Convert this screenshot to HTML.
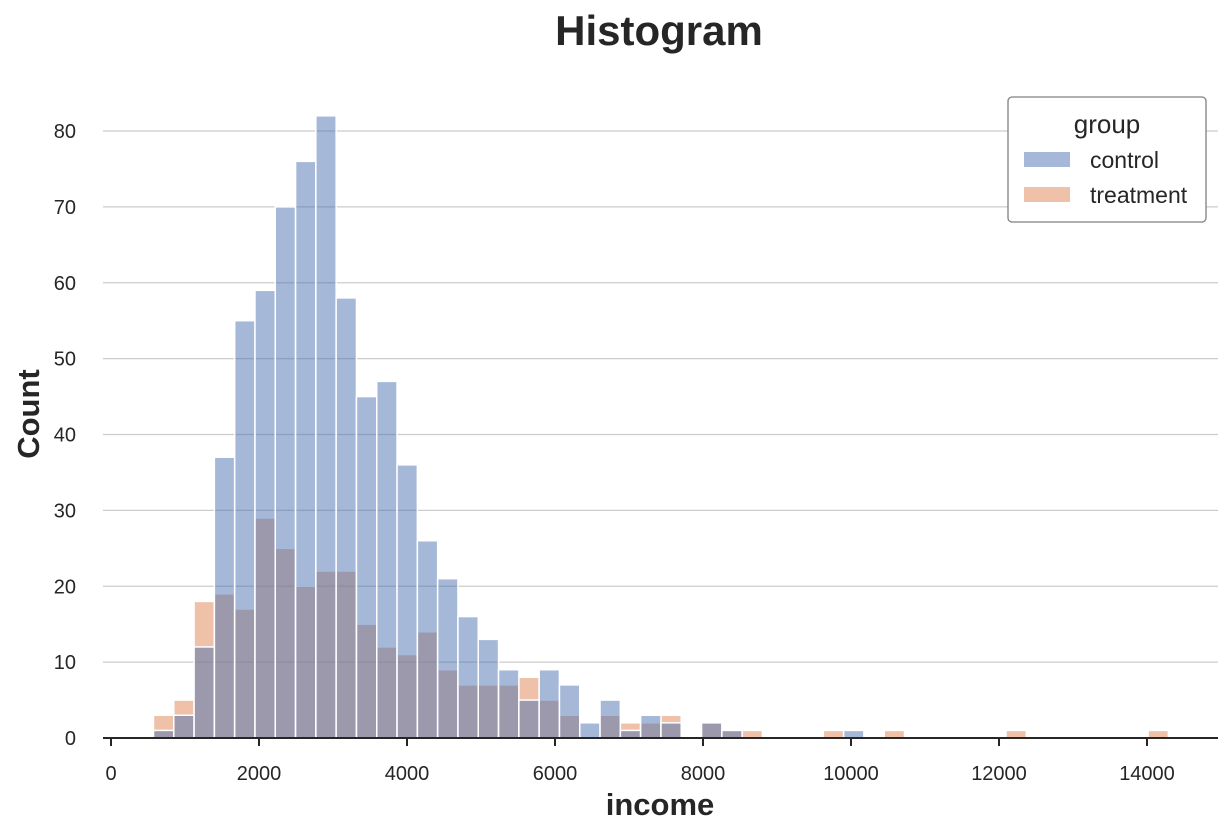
<!DOCTYPE html>
<html><head><meta charset="utf-8"><style>
html,body{margin:0;padding:0;background:#fff;}
svg{display:block;font-family:"Liberation Sans",Arial,sans-serif;}
</style></head><body>
<svg id="chart" width="1232" height="835" xmlns="http://www.w3.org/2000/svg">
<g id="grid"></g>
<g id="bars"></g>
<g id="axes"></g>
<text x="659" y="45" text-anchor="middle" font-size="42" font-weight="bold" fill="#262626">Histogram</text>
<text x="660" y="815" text-anchor="middle" font-size="31" font-weight="bold" fill="#262626">income</text>
<text transform="translate(39,414) rotate(-90)" text-anchor="middle" font-size="31" font-weight="bold" fill="#262626">Count</text>
<g>
<rect x="1008" y="97" width="198" height="125" rx="4" fill="#fff" stroke="#808080" stroke-width="1.3"/>
<text x="1107" y="133" text-anchor="middle" font-size="26" fill="#262626">group</text>
<g>
<rect x="1024" y="152" width="46" height="15" fill="#4c72b0" fill-opacity="0.5"/>
<text x="1090" y="168" font-size="23" fill="#262626">control</text></g>
<g>
<rect x="1024" y="187" width="46" height="15" fill="#dd8452" fill-opacity="0.5"/>
<text x="1090" y="203" font-size="23" fill="#262626">treatment</text></g>
</g>
</svg>
<script>
const binStart = 574;
const binWidth = 274.3;
const controlCounts = [1,3,12,37,55,59,70,76,82,58,45,47,36,26,21,16,13,9,5,9,7,2,5,1,3,2,0,2,1,0,0,0,0,0,1,0,0,0,0,0,0,0,0,0,0,0,0,0,0,0];
const treatmentCounts = [3,5,18,19,17,29,25,20,22,22,15,12,11,14,9,7,7,7,8,5,3,0,3,2,2,3,0,2,1,1,0,0,0,1,0,0,1,0,0,0,0,0,1,0,0,0,0,0,0,1];
const xTicks = [0,2000,4000,6000,8000,10000,12000,14000];
const yTicks = [0,10,20,30,40,50,60,70,80];

const NS = "http://www.w3.org/2000/svg";
function xs(v){ return 111 + v * 0.074; }
function ys(v){ return 738 - v * 7.5875; }
function mk(tag, attrs, parent){ const e=document.createElementNS(NS,tag); for(const k in attrs) e.setAttribute(k,attrs[k]); parent.appendChild(e); return e; }

const grid=document.getElementById('grid'), bars=document.getElementById('bars'), axes=document.getElementById('axes');
yTicks.forEach(t=>{
  if(t>0){
    const l=mk('line',{x1:103,x2:1218,y1:ys(t),y2:ys(t),stroke:'#cccccc','stroke-width':1.3},grid);
    
    
  }
  const tx=mk('text',{x:76,y:ys(t)+7,'text-anchor':'end','font-size':20,fill:'#262626'},axes);
  tx.textContent=t;
  
  
});
function drawSeries(arr,color,name){
  arr.forEach((c,i)=>{
    if(c<=0) return;
    const x0=xs(binStart+i*binWidth), x1=xs(binStart+(i+1)*binWidth);
    const r=mk('rect',{x:x0,y:ys(c),width:x1-x0,height:ys(0)-ys(c),fill:color,'fill-opacity':0.5,stroke:'#fff','stroke-width':1.5},bars);
    
    
  });
}
drawSeries(treatmentCounts,'#dd8452','treatment');
drawSeries(controlCounts,'#4c72b0','control');
const ax=mk('line',{x1:103,x2:1218,y1:738,y2:738,stroke:'#262626','stroke-width':2},axes);


xTicks.forEach(t=>{
  const tk=mk('line',{x1:xs(t),x2:xs(t),y1:738,y2:746,stroke:'#262626','stroke-width':2},axes);
  
  
  const tx=mk('text',{x:xs(t),y:780,'text-anchor':'middle','font-size':20,fill:'#262626'},axes);
  tx.textContent=t;
  
  
});
</script>
</body></html>
